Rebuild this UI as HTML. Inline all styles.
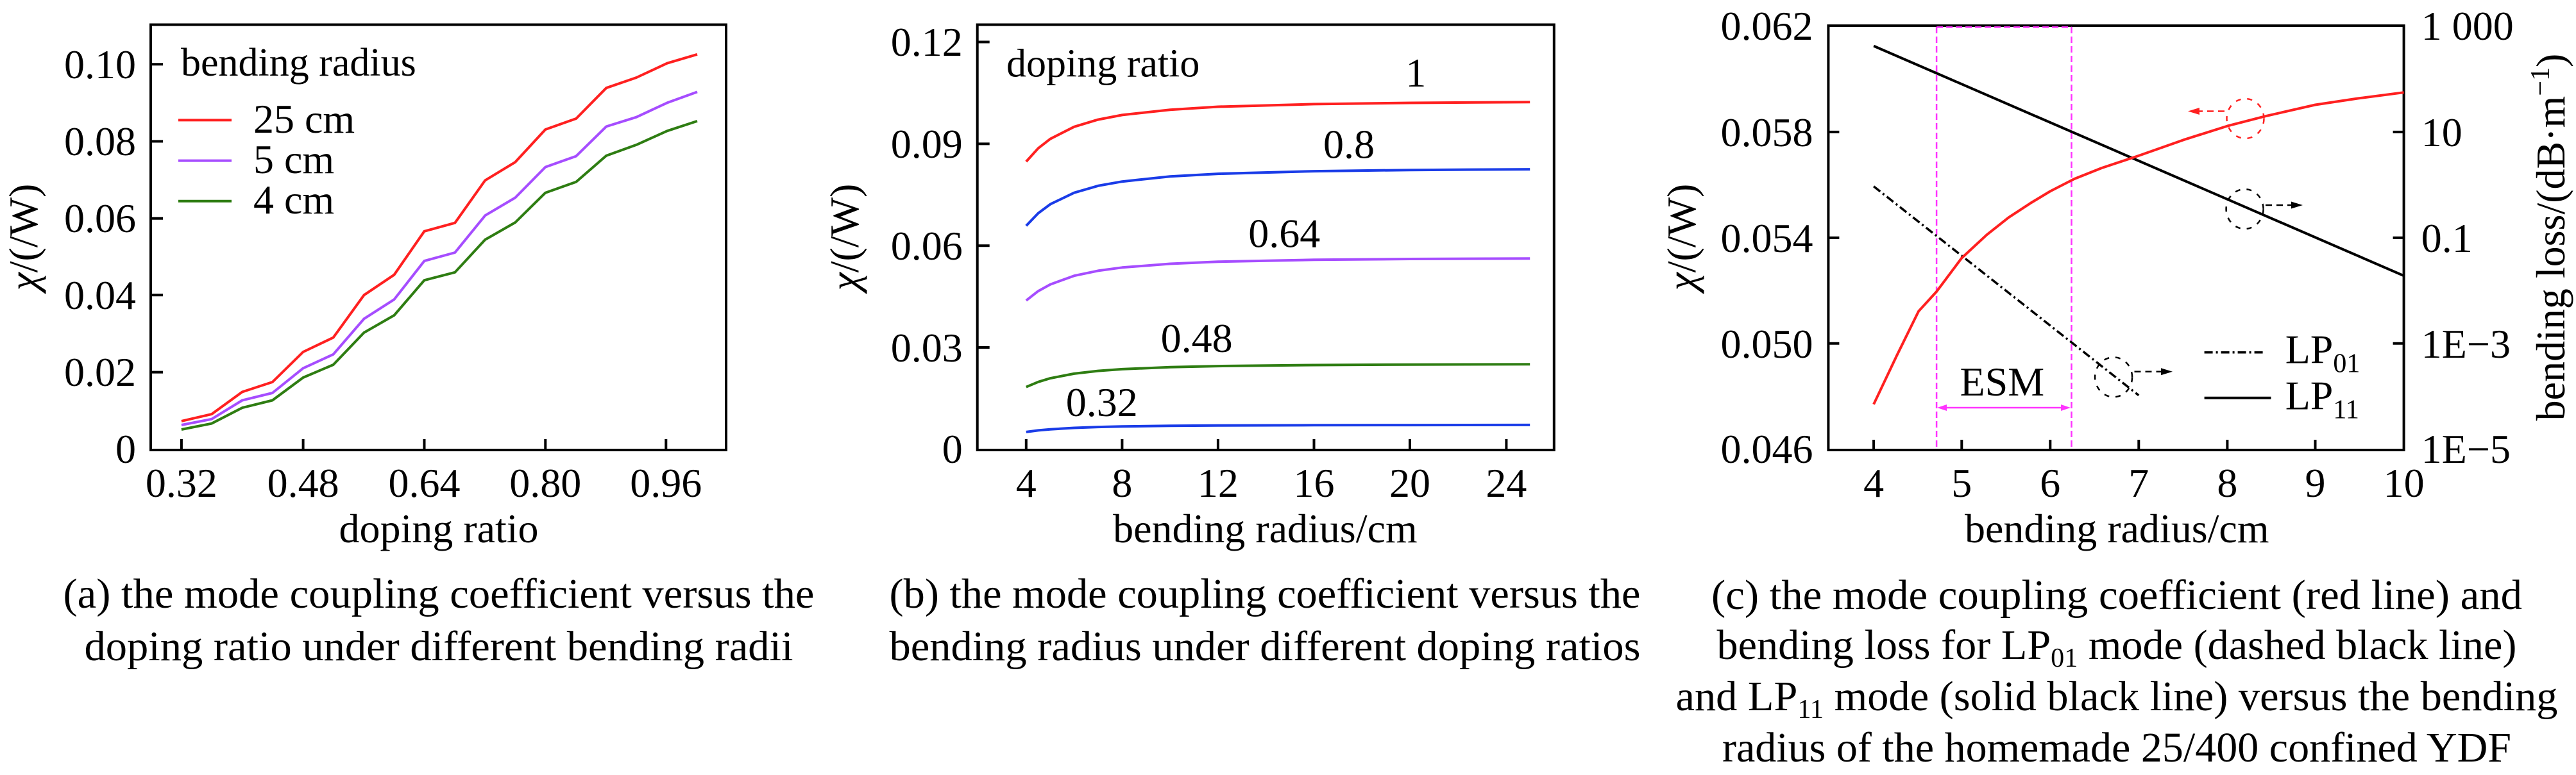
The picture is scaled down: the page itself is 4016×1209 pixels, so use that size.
<!DOCTYPE html>
<html><head><meta charset="utf-8"><style>
html,body{margin:0;padding:0;background:#fff;overflow:hidden;}
svg{display:block;}
text{font-family:"Liberation Serif",serif;fill:#000;}
</style></head><body>
<svg width="4016" height="1209" viewBox="0 0 4016 1209" xmlns="http://www.w3.org/2000/svg">
<rect width="4016" height="1209" fill="#fff"/>

<!-- Panel A -->
<rect x="235" y="38.5" width="897" height="663.5" fill="none" stroke="#000" stroke-width="4"/>
<g stroke="#000" stroke-width="4">
  <line x1="235" y1="100.2" x2="254" y2="100.2"/><line x1="235" y1="220.5" x2="254" y2="220.5"/>
  <line x1="235" y1="340.8" x2="254" y2="340.8"/><line x1="235" y1="460.3" x2="254" y2="460.3"/>
  <line x1="235" y1="580.6" x2="254" y2="580.6"/>
  <line x1="282.9" y1="702" x2="282.9" y2="685"/><line x1="472.6" y1="702" x2="472.6" y2="685"/>
  <line x1="661.5" y1="702" x2="661.5" y2="685"/><line x1="850.3" y1="702" x2="850.3" y2="685"/>
  <line x1="1038.3" y1="702" x2="1038.3" y2="685"/>
</g>
<g font-size="64" text-anchor="end">
  <text x="212" y="122">0.10</text><text x="212" y="242">0.08</text><text x="212" y="362">0.06</text>
  <text x="212" y="482">0.04</text><text x="212" y="602">0.02</text><text x="212" y="722">0</text>
</g>
<g font-size="64" text-anchor="middle">
  <text x="282.9" y="775">0.32</text><text x="472.6" y="775">0.48</text><text x="661.5" y="775">0.64</text>
  <text x="850.3" y="775">0.80</text><text x="1038.3" y="775">0.96</text>
</g>
<text x="684" y="846" font-size="64" text-anchor="middle">doping ratio</text>
<text transform="translate(58,370) rotate(-90)" font-size="64" text-anchor="middle"><tspan font-style="italic">χ</tspan>/(/W)</text>
<text x="282" y="118" font-size="62">bending radius</text>
<line x1="278" y1="187.4" x2="361" y2="187.4" stroke="#ff2020" stroke-width="4"/>
<line x1="278" y1="250.6" x2="361" y2="250.6" stroke="#a64dff" stroke-width="4"/>
<line x1="278" y1="313.8" x2="361" y2="313.8" stroke="#2e7d12" stroke-width="4"/>
<g font-size="64"><text x="395" y="207">25 cm</text><text x="395" y="270">5 cm</text><text x="395" y="333">4 cm</text></g>
<g fill="none" stroke-width="4" stroke-linejoin="round">
  <polyline stroke="#ff2020" points="282.9,656.9 329.9,646.1 377.7,611.4 424.7,596 472.6,549 519.6,526.6 567.5,460.3 614.5,428.7 661.5,360.8 709.3,347.7 756.3,281.4 803.3,252.9 850.3,202 898.2,185 945.2,137.2 992.2,121 1040,98.7 1087,84.8"/>
  <polyline stroke="#a64dff" points="282.9,663 329.9,653.8 377.7,624.5 424.7,613 472.6,574.4 519.6,552.8 567.5,497.3 614.5,467.2 661.5,407.1 709.3,394 756.3,336.2 803.3,308.4 850.3,260.6 898.2,243.6 945.2,197.4 992.2,182.7 1040,160.4 1087,143.4"/>
  <polyline stroke="#2e7d12" points="282.9,670 329.9,660.7 377.7,636.1 424.7,624.5 472.6,589 519.6,569 567.5,518.9 614.5,491.9 661.5,437.2 709.3,424.8 756.3,373.9 803.3,347 850.3,300.7 898.2,283.7 945.2,242.9 992.2,225.9 1040,204.3 1087,188.9"/>
</g>
<text x="684" y="948" font-size="66" text-anchor="middle" textLength="1171" lengthAdjust="spacingAndGlyphs">(a) the mode coupling coefficient versus the</text>
<text x="684" y="1030" font-size="66" text-anchor="middle" textLength="1105" lengthAdjust="spacingAndGlyphs">doping ratio under different bending radii</text>

<!-- Panel B -->
<rect x="1523.7" y="38.5" width="899.1" height="663.5" fill="none" stroke="#000" stroke-width="4"/>
<g stroke="#000" stroke-width="4">
  <line x1="1523.7" y1="65.5" x2="1542.7" y2="65.5"/><line x1="1523.7" y1="224.4" x2="1542.7" y2="224.4"/>
  <line x1="1523.7" y1="383.2" x2="1542.7" y2="383.2"/><line x1="1523.7" y1="542" x2="1542.7" y2="542"/>
  <line x1="1599.8" y1="702" x2="1599.8" y2="685"/><line x1="1749.4" y1="702" x2="1749.4" y2="685"/>
  <line x1="1898.9" y1="702" x2="1898.9" y2="685"/><line x1="2048.5" y1="702" x2="2048.5" y2="685"/>
  <line x1="2198" y1="702" x2="2198" y2="685"/><line x1="2348.4" y1="702" x2="2348.4" y2="685"/>
</g>
<g font-size="64" text-anchor="end">
  <text x="1500.7" y="87">0.12</text><text x="1500.7" y="246">0.09</text><text x="1500.7" y="405">0.06</text>
  <text x="1500.7" y="564">0.03</text><text x="1500.7" y="722">0</text>
</g>
<g font-size="64" text-anchor="middle">
  <text x="1599.8" y="775">4</text><text x="1749.4" y="775">8</text><text x="1898.9" y="775">12</text>
  <text x="2048.5" y="775">16</text><text x="2198" y="775">20</text><text x="2348.4" y="775">24</text>
</g>
<text x="1972.4" y="846" font-size="64" text-anchor="middle">bending radius/cm</text>
<text transform="translate(1338,370) rotate(-90)" font-size="64" text-anchor="middle"><tspan font-style="italic">χ</tspan>/(/W)</text>
<text x="1569" y="119.5" font-size="62">doping ratio</text>
<g font-size="64" text-anchor="middle">
  <text x="2207.4" y="135">1</text><text x="2103" y="246.7">0.8</text><text x="2002.3" y="385.5">0.64</text>
  <text x="1865.6" y="549">0.48</text><text x="1717.7" y="649">0.32</text>
</g>
<g fill="none" stroke-width="4" stroke-linejoin="round">
  <polyline stroke="#ff2020" points="1599.8,252.1 1618.6,231.3 1637.4,216.7 1674.6,197.8 1711.8,186.6 1749.4,179.4 1824.1,171.2 1898.9,166.5 2048.5,162.4 2198,160.5 2385.2,159.3"/>
  <polyline stroke="#1a3ce8" points="1599.8,352.3 1618.6,332.6 1637.4,318.6 1674.6,300.7 1711.8,289.9 1749.4,283.2 1824.1,275.2 1898.9,271.1 2048.5,267.1 2198,265.2 2385.2,264.1"/>
  <polyline stroke="#a64dff" points="1599.8,468.8 1618.6,454.1 1637.4,443.7 1674.6,430.2 1711.8,422.4 1749.4,417.3 1824.1,411.5 1898.9,408.3 2048.5,405.3 2198,404 2385.2,403.2"/>
  <polyline stroke="#2e7d12" points="1599.8,603.7 1618.6,595.8 1637.4,590.1 1674.6,582.9 1711.8,578.6 1749.4,575.9 1824.1,572.8 1898.9,571.1 2048.5,569.5 2198,568.7 2385.2,568.2"/>
  <polyline stroke="#1a3ce8" points="1599.8,673.9 1618.6,671.4 1637.4,669.7 1674.6,667.5 1711.8,666.1 1749.4,665.3 1824.1,664.3 1898.9,663.8 2048.5,663.3 2198,663.1 2385.2,662.9"/>
</g>
<text x="1972" y="948" font-size="66" text-anchor="middle" textLength="1171" lengthAdjust="spacingAndGlyphs">(b) the mode coupling coefficient versus the</text>
<text x="1972" y="1030" font-size="66" text-anchor="middle" textLength="1171" lengthAdjust="spacingAndGlyphs">bending radius under different doping ratios</text>

<!-- Panel C -->
<rect x="2850.4" y="40.1" width="897.2" height="661.9" fill="none" stroke="#000" stroke-width="4"/>
<g stroke="#000" stroke-width="4">
  <line x1="2850.4" y1="205.9" x2="2867.4" y2="205.9"/><line x1="2850.4" y1="370.9" x2="2867.4" y2="370.9"/><line x1="2850.4" y1="535.8" x2="2867.4" y2="535.8"/>
  <line x1="3747.6" y1="205.9" x2="3730.6" y2="205.9"/><line x1="3747.6" y1="370.9" x2="3730.6" y2="370.9"/><line x1="3747.6" y1="535.8" x2="3730.6" y2="535.8"/>
  <line x1="2921.1" y1="702" x2="2921.1" y2="686"/><line x1="3058.3" y1="702" x2="3058.3" y2="686"/><line x1="3196.3" y1="702" x2="3196.3" y2="686"/>
  <line x1="3334.3" y1="702" x2="3334.3" y2="686"/><line x1="3472.4" y1="702" x2="3472.4" y2="686"/><line x1="3609.5" y1="702" x2="3609.5" y2="686"/>
</g>
<g font-size="64" text-anchor="end">
  <text x="2826.5" y="62">0.062</text><text x="2826.5" y="228">0.058</text><text x="2826.5" y="393">0.054</text>
  <text x="2826.5" y="558">0.050</text><text x="2826.5" y="722">0.046</text>
</g>
<g font-size="64">
  <text x="3774.8" y="62">1 000</text><text x="3774.8" y="228">10</text><text x="3774.8" y="393">0.1</text>
  <text x="3774.8" y="558">1E−3</text><text x="3774.8" y="722">1E−5</text>
</g>
<g font-size="64" text-anchor="middle">
  <text x="2921.1" y="775">4</text><text x="3058.3" y="775">5</text><text x="3196.3" y="775">6</text><text x="3334.3" y="775">7</text>
  <text x="3472.4" y="775">8</text><text x="3609.5" y="775">9</text><text x="3747.6" y="775">10</text>
</g>
<text x="3300.3" y="846" font-size="64" text-anchor="middle">bending radius/cm</text>
<text transform="translate(2643,370) rotate(-90)" font-size="64" text-anchor="middle"><tspan font-style="italic">χ</tspan>/(/W)</text>
<text transform="translate(3998,370) rotate(-90)" font-size="64" text-anchor="middle">bending loss/(dB·m<tspan dy="-24" font-size="42">−1</tspan><tspan dy="24">)</tspan></text>
<g stroke="#ff33ff" stroke-width="2.5" stroke-dasharray="10,5" fill="none">
  <line x1="3019.1" y1="42" x2="3019.1" y2="702"/><line x1="3229.5" y1="42" x2="3229.5" y2="702"/>
  <line x1="3019.1" y1="42.4" x2="3229.5" y2="42.4"/>
</g>
<line x1="3030" y1="636" x2="3219" y2="636" stroke="#ff33ff" stroke-width="2.5"/>
<polygon points="3020,636 3035,631 3035,641" fill="#ff33ff"/>
<polygon points="3228,636 3213,631 3213,641" fill="#ff33ff"/>
<text x="3121.3" y="617" font-size="64" text-anchor="middle">ESM</text>
<line x1="2921.1" y1="71.7" x2="3747.6" y2="430.2" stroke="#000" stroke-width="4"/>
<line x1="2921.1" y1="290.7" x2="3334.3" y2="616.8" stroke="#000" stroke-width="3.5" stroke-dasharray="13,5,3,5"/>
<polyline fill="none" stroke="#ff2020" stroke-width="4" stroke-linejoin="round" points="2921.1,630.7 2956.9,555.1 2991,485.7 3019.1,454.9 3058.3,402.5 3097.5,366.2 3131.6,339.2 3165.6,316.9 3196.3,298.4 3233.8,279.1 3276.4,262.1 3334.3,242.9 3404.2,218.2 3472.4,196.6 3532,181.2 3609.5,163.5 3676.8,153.4 3747.6,144.2"/>
<ellipse cx="3500.5" cy="185" rx="29" ry="31" fill="none" stroke="#ff2020" stroke-width="2.5" stroke-dasharray="8,10"/>
<line x1="3468" y1="173.5" x2="3425" y2="173.5" stroke="#ff2020" stroke-width="2.5" stroke-dasharray="10,7"/>
<polygon points="3411,173.5 3429,168 3429,179" fill="#ff2020"/>
<ellipse cx="3499.6" cy="326.1" rx="29" ry="31" fill="none" stroke="#000" stroke-width="2.5" stroke-dasharray="8,10"/>
<line x1="3532" y1="320" x2="3575" y2="320" stroke="#000" stroke-width="2.5" stroke-dasharray="10,7"/>
<polygon points="3590,320 3572,314.5 3572,325.5" fill="#000"/>
<ellipse cx="3295.1" cy="588.3" rx="29" ry="31" fill="none" stroke="#000" stroke-width="2.5" stroke-dasharray="8,10"/>
<line x1="3327.5" y1="579.8" x2="3372" y2="579.8" stroke="#000" stroke-width="2.5" stroke-dasharray="10,7"/>
<polygon points="3387,579.8 3369,574.3 3369,585.3" fill="#000"/>
<line x1="3436.6" y1="549.7" x2="3532" y2="549.7" stroke="#000" stroke-width="3.5" stroke-dasharray="13,5,3,5"/>
<line x1="3436.6" y1="620.7" x2="3540.5" y2="620.7" stroke="#000" stroke-width="4"/>
<text x="3562.7" y="566.7" font-size="64">LP<tspan dy="14" font-size="42">01</tspan></text>
<text x="3562.7" y="638.4" font-size="64">LP<tspan dy="14" font-size="42">11</tspan></text>
<g font-size="66" text-anchor="middle">
  <text x="3300" y="950" textLength="1264" lengthAdjust="spacingAndGlyphs">(c) the mode coupling coefficient (red line) and</text>
  <text x="3300" y="1028" textLength="1247" lengthAdjust="spacingAndGlyphs">bending loss for LP<tspan dy="12" font-size="42">01</tspan><tspan dy="-12"> mode (dashed black line)</tspan></text>
  <text x="3300" y="1108" textLength="1375" lengthAdjust="spacingAndGlyphs">and LP<tspan dy="12" font-size="42">11</tspan><tspan dy="-12"> mode (solid black line) versus the bending</tspan></text>
  <text x="3300" y="1188" textLength="1230" lengthAdjust="spacingAndGlyphs">radius of the homemade 25/400 confined YDF</text>
</g>
</svg>
</body></html>
